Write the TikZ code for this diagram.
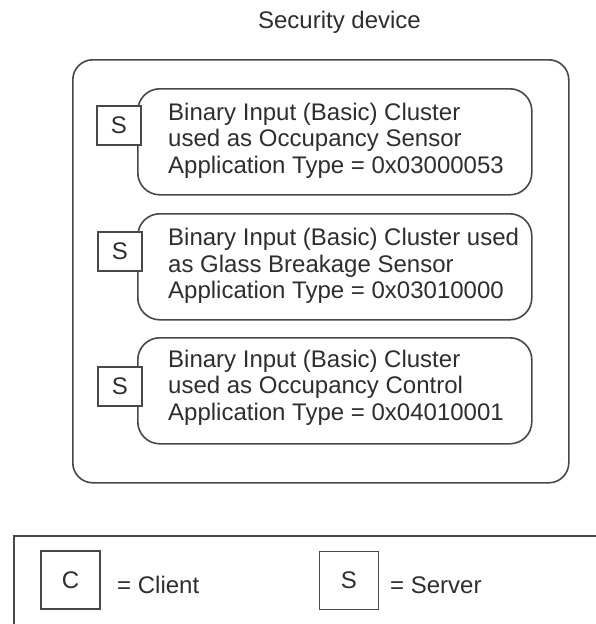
\documentclass[tikz,border=0pt]{standalone}
\usepackage{fontspec}
\setmainfont{Liberation Sans}
\definecolor{lc}{HTML}{484848}
\definecolor{tc}{HTML}{2E2E2E}
\begin{document}
\begin{tikzpicture}[x=1pt,y=-1pt,
  txt/.style={text=tc, font=\fontsize{24}{26.5}\selectfont, inner sep=0pt},
  lbl/.style={txt, align=left},
  frame/.style={draw=lc, line width=1.6pt, rounded corners=20pt, inner sep=0pt},
  cluster/.style={draw=lc, line width=1.6pt, rounded corners=22pt, inner sep=0pt,
    minimum width=394pt, minimum height=106pt, anchor=north west},
  sbox/.style={txt, draw=lc, line width=1.6pt, fill=white,
    minimum width=44pt, minimum height=39pt},
  legbox/.style={txt, draw=lc, line width=1.6pt, fill=white,
    minimum width=59pt, minimum height=58pt}]
\useasboundingbox (0,0) rectangle (596,624);
\fill[white] (0,0) rectangle (596,624);
% title
\node[txt, anchor=base] (title) at (339.5,28) {Security device};
% device frame
\node[frame, minimum width=496pt, minimum height=423pt, anchor=north west] (dev) at (72,59) {};
% clusters
\node[cluster] (c1) at (137,88) {};
\node[cluster] (c2) at (137,213) {};
\node[cluster] (c3) at (137,337) {};
\node[lbl, anchor=north west] (t1) at (168,102.5) {Binary Input (Basic) Cluster\\used as Occupancy Sensor\\Application Type = 0x03000053};
\node[lbl, anchor=north west] (t2) at (168,228) {Binary Input (Basic) Cluster used\\as Glass Breakage Sensor\\Application Type = 0x03010000};
\node[lbl, anchor=north west] (t3) at (168,349.5) {Binary Input (Basic) Cluster\\used as Occupancy Control\\Application Type = 0x04010001};
\node[sbox] (s1) at (119,125.5) {S};
\node[sbox] (s2) at (120,251.5) {S};
\node[sbox] (s3) at (120,386.5) {S};
% legend
\node[draw=lc, line width=1.6pt, inner sep=0pt, minimum width=620pt, minimum height=120pt, anchor=north west] (legend) at (13,535) {};
\node[legbox] (lc) at (70.5,580) {C};
\node[txt, anchor=base west] (lct) at (117,593) {= Client};
\node[legbox] (ls) at (349,580.5) {S};
\node[txt, anchor=base west] (lst) at (390,593) {= Server};
\end{tikzpicture}
\end{document}
